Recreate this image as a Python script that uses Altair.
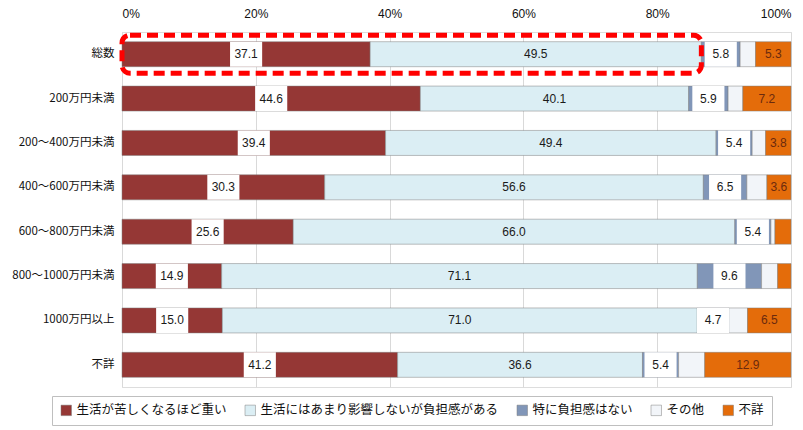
import altair as alt
import pandas as pd

categories = ["総数", "200万円未満", "200～400万円未満", "400～600万円未満",
              "600～800万円未満", "800～1000万円未満", "1000万円以上", "不詳"]
series = ["生活が苦しくなるほど重い", "生活にはあまり影響しないが負担感がある",
          "特に負担感はない", "その他", "不詳"]

heavy = [37.1, 44.6, 39.4, 30.3, 25.6, 14.9, 15.0, 41.2]
burden = [49.5, 40.1, 49.4, 56.6, 66.0, 71.1, 71.0, 36.6]
no_burden = [5.8, 5.9, 5.4, 6.5, 5.4, 9.6, 4.7, 5.4]
other = [2.3, 2.2, 2.0, 3.0, 0.6, 2.4, 2.8, 3.9]
unknown = [5.3, 7.2, 3.8, 3.6, 2.4, 2.0, 6.5, 12.9]

# which values carry a printed label (1 = shown)
show_heavy = [1, 1, 1, 1, 1, 1, 1, 1]
show_burden = [1, 1, 1, 1, 1, 1, 1, 1]
show_no_burden = [1, 1, 1, 1, 1, 1, 1, 1]
show_other = [0, 0, 0, 0, 0, 0, 0, 0]
show_unknown = [1, 1, 1, 1, 0, 0, 1, 1]

colors = ["#953735", "#DBEEF4", "#8196B8", "#F2F5F9", "#E46C0A"]
label_kind = ["box", "plain", "box", "none", "orange"]

values = [heavy, burden, no_burden, other, unknown]
shows = [show_heavy, show_burden, show_no_burden, show_other, show_unknown]

rows = []
for ci, cat in enumerate(categories):
    start = 0.0
    for si, s in enumerate(series):
        v = values[si][ci]
        rows.append({
            "cat": cat, "series": s, "order": si, "value": v,
            "start": start, "end": start + v, "mid": start + v / 2,
            "label": f"{v:.1f}", "kind": label_kind[si] if shows[si][ci] else "none",
        })
        start += v
df = pd.DataFrame(rows)

highlight = pd.DataFrame([{"cat": categories[0], "x0": 0.0,
                           "x1": heavy[0] + burden[0]}])

ysc = alt.Scale(domain=categories, paddingInner=0, paddingOuter=0)
yenc = alt.Y("cat:N", sort=categories, scale=ysc, title=None,
             axis=alt.Axis(labelFont="Noto Sans CJK JP", labelFontSize=11.5,
                           labelColor="#111", labelPadding=8, ticks=False,
                           domain=False, labelLimit=200))
xsc = alt.Scale(domain=[0, 100], nice=False, zero=True)

bars = alt.Chart(df).mark_bar(size=25, stroke="#7f7f7f", strokeWidth=0.5).encode(
    x=alt.X("start:Q", scale=xsc, title=None,
            axis=alt.Axis(orient="top", values=[0, 20, 40, 60, 80, 100],
                          labelExpr="datum.value + '%'", ticks=False, domain=False,
                          labelFont="Liberation Sans", labelFontSize=12,
                          labelColor="#111", labelPadding=12,
                          grid=True, gridColor="#D9D9D9", gridWidth=1)),
    x2="end:Q",
    y=yenc,
    color=alt.Color("series:N", scale=alt.Scale(domain=series, range=colors),
                    sort=series,
                    legend=alt.Legend(title=None, orient="none", legendX=-70,
                                      legendY=364, direction="horizontal",
                                      symbolType="square", symbolSize=110,
                                      symbolStrokeColor="#7f7f7f",
                                      symbolStrokeWidth=0.5,
                                      labelFont="Noto Sans CJK JP",
                                      labelFontSize=12.5, labelColor="#111",
                                      labelLimit=400, columnPadding=17,
                                      strokeColor="#BFBFBF", padding=8,
                                      symbolOffset=0)),
    order=alt.Order("order:Q"),
)

boxes = alt.Chart(df).transform_filter("datum.kind == 'box'").transform_calculate(
    b0="datum.mid - 2.4", b1="datum.mid + 2.4"
).mark_bar(size=25, color="white").encode(
    x=alt.X("b0:Q", scale=xsc), x2="b1:Q", y=yenc)

texts = alt.Chart(df).transform_filter("datum.kind != 'none'").mark_text(
    font="Liberation Sans", fontSize=12, baseline="middle", align="center"
).encode(
    x=alt.X("mid:Q", scale=xsc), y=yenc, text="label:N",
    color=alt.condition("datum.kind == 'orange'", alt.value("#6B2A0E"),
                        alt.value("#1a1a1a")),
)

frame = alt.Chart(highlight).mark_bar(
    size=38, fill=None, fillOpacity=0, stroke="#FF0000", strokeWidth=5,
    strokeDash=[11, 6], cornerRadius=8
).encode(x=alt.X("x0:Q", scale=xsc), x2="x1:Q", y=yenc)

chart = alt.layer(bars, boxes, texts, frame).properties(
    width=669, height=355,
    autosize=alt.AutoSizeParams(type="none"),
    padding={"left": 114, "top": 24, "right": 4, "bottom": 43},
).configure_view(stroke="#333333", strokeWidth=1.5).configure(background="white")

chart.save("out.html", embed_options={"renderer": "svg", "actions": False})
